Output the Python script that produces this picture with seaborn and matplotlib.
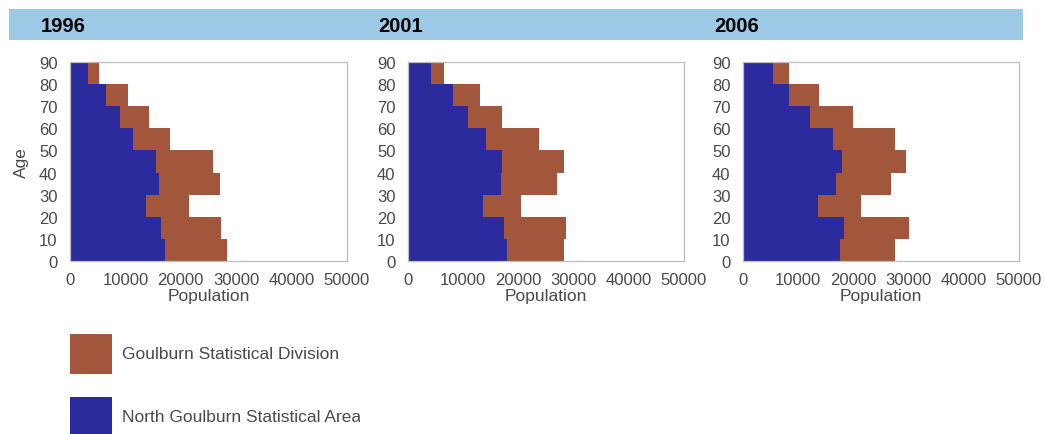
import numpy as np
import pandas as pd
import matplotlib
matplotlib.use("Agg")
import matplotlib.pyplot as plt
from matplotlib.patches import Rectangle
import seaborn as sns

# ---- data ----
years = ["1996", "2001", "2006"]
age_bands = [0, 10, 20, 30, 40, 50, 60, 70, 80]
age_edges = [0, 10, 20, 30, 40, 50, 60, 70, 80, 90]
goulburn_sd_1996 = [28300, 27300, 21400, 27100, 25900, 18100, 14300, 10400, 5300]
north_sa_1996 = [17200, 16400, 13700, 16100, 15500, 11300, 9000, 6500, 3300]
goulburn_sd_2001 = [28300, 28600, 20500, 27000, 28300, 23800, 17000, 13100, 6500]
north_sa_2001 = [17900, 17400, 13600, 16900, 17100, 14200, 10800, 8100, 4200]
goulburn_sd_2006 = [27500, 30100, 21400, 26900, 29600, 27500, 20000, 13700, 8400]
north_sa_2006 = [17500, 18300, 13500, 16900, 18000, 16300, 12200, 8400, 5400]
x_ticks = [0, 10000, 20000, 30000, 40000, 50000]
y_ticks = [0, 10, 20, 30, 40, 50, 60, 70, 80, 90]
series_names = ["Goulburn Statistical Division", "North Goulburn Statistical Area"]

sd_all = [goulburn_sd_1996, goulburn_sd_2001, goulburn_sd_2006]
sa_all = [north_sa_1996, north_sa_2001, north_sa_2006]

BROWN = "#A2563C"
BLUE = "#2B2B9E"
BAND = "#9DC9E6"
TXT = "#4a4a4a"
SPINE = "#bdbdbd"

sns.set_style("white")
plt.rcParams["font.family"] = ["Liberation Sans", "DejaVu Sans"]

W, H = 1045, 435
fig = plt.figure(figsize=(W / 100, H / 100), dpi=100)

# header band
fig.patches.append(Rectangle((9 / W, 1 - 41 / H), (1023 - 9) / W, 31 / H,
                             transform=fig.transFigure, facecolor=BAND,
                             edgecolor="none", zorder=0))

panel_x = [(70, 347), (408, 684), (743, 1019)]
year_x = [41, 378, 714]
top, bottom = 63, 262

for i, (yr, sd, sa) in enumerate(zip(years, sd_all, sa_all)):
    x0, x1 = panel_x[i]
    ax = fig.add_axes([x0 / W, 1 - bottom / H, (x1 - x0) / W, (bottom - top) / H])
    df = pd.DataFrame({"age": age_bands, "sd": sd, "sa": sa})
    sns.histplot(data=df, y="age", weights="sd", bins=age_edges, color=BROWN,
                 alpha=1, linewidth=0, ax=ax)
    sns.histplot(data=df, y="age", weights="sa", bins=age_edges, color=BLUE,
                 alpha=1, linewidth=0, ax=ax)
    ax.set_xlim(0, 50000)
    ax.set_ylim(0, 90)
    ax.set_xticks(x_ticks)
    ax.set_xticklabels([str(v) for v in x_ticks])
    ax.set_yticks(y_ticks)
    ax.tick_params(axis="both", labelsize=12, colors=TXT, length=3,
                   width=0.6, pad=6, color=SPINE)
    ax.tick_params(axis="x", length=0, pad=8)
    for s in ax.spines.values():
        s.set_color(SPINE)
        s.set_linewidth(0.9)
    ax.set_xlabel("Population", fontsize=12.5, color=TXT, labelpad=1)
    if i == 0:
        ax.set_ylabel("Age", fontsize=12.5, color=TXT, labelpad=7)
    else:
        ax.set_ylabel("")
    fig.text(year_x[i] / W, 1 - 26 / H, yr, fontsize=14.5, fontweight="bold",
             color="black", ha="left", va="center")

# legend (clipped at the right like the source)
lax = fig.add_axes([0, 0, 360 / W, 1])
lax.set_xlim(0, 360)
lax.set_ylim(0, 435)
lax.axis("off")
lax.add_patch(Rectangle((70, 435 - 375), 42, 40, facecolor=BROWN, edgecolor="none"))
lax.add_patch(Rectangle((70, 435 - 438), 42, 40, facecolor=BLUE, edgecolor="none"))
lax.text(122, 435 - 355, series_names[0], fontsize=12.5, color=TXT,
         va="center", ha="left", clip_on=True)
lax.text(122, 435 - 418, series_names[1], fontsize=12.5, color=TXT,
         va="center", ha="left", clip_on=True)

fig.savefig("out.png", dpi=100, facecolor="white")
